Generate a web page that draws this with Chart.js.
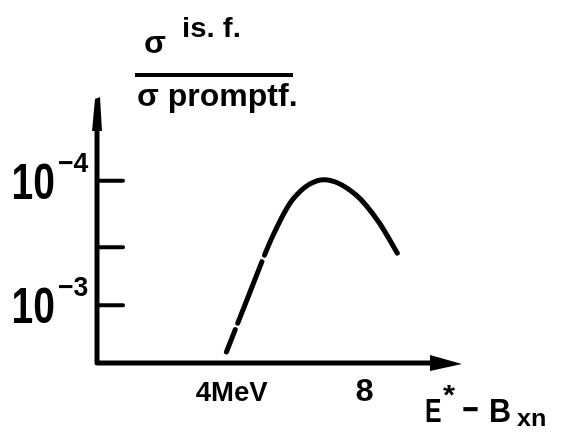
<!DOCTYPE html>
<html>
<head>
<meta charset="utf-8">
<script src="https://cdn.jsdelivr.net/npm/chart.js@4"></script>
<style>
  html, body { margin: 0; padding: 0; background: #fff; }
  canvas { display: block; }
</style>
</head>
<body>
<canvas id="isomerChart" width="583" height="432"></canvas>
<script>
// excitation energy above neutron binding (MeV) and ratio on the log grid
var energy = [3.9, 4.6, 5.3, 5.9, 6.85, 7.8, 8.5, 9.05];
var ratio  = [0.19, 1.21, 2.2, 2.83, 3.17, 2.91, 2.43, 1.90];

var yTicks = [1, 2, 3.15];
var yTickBase = ["10", "", "10"];
var yTickExp  = ["\u22123", "", "\u22124"];

var xTicks = [4, 8];
var xTickLabels = ["4MeV", "8"];

var INK = "#000";
var FONT = "'Liberation Sans', Arial, sans-serif";
var NARROW = "'Liberation Sans Narrow', 'Liberation Sans', sans-serif";

// text squeezed horizontally like the hand lettering
function squeezed(ctx, txt, x, y, font, sx, align) {
  ctx.save();
  ctx.font = font;
  ctx.textAlign = align || "left";
  ctx.textBaseline = "alphabetic";
  ctx.translate(x, y);
  ctx.scale(sx, 1);
  ctx.fillText(txt, 0, 0);
  ctx.restore();
}

var sketchAxes = {
  id: "sketchAxes",
  afterDraw: function(chart) {
    var ctx = chart.ctx,
        xs = chart.scales.x,
        ys = chart.scales.y,
        x0 = xs.left,
        y0 = ys.bottom;

    ctx.save();
    ctx.fillStyle = INK;
    ctx.strokeStyle = INK;
    ctx.lineCap = "round";
    ctx.lineJoin = "round";
    ctx.lineWidth = 5;

    // axes
    ctx.beginPath();
    ctx.moveTo(x0, ys.top + 30);
    ctx.lineTo(x0, y0);
    ctx.lineTo(xs.right - 28, y0);
    ctx.stroke();

    // arrow heads
    ctx.beginPath();
    ctx.moveTo(x0 - 5, ys.top + 34);
    ctx.lineTo(x0 + 5, ys.top + 34);
    ctx.lineTo(x0 + 3, ys.top);
    ctx.lineTo(x0 - 2, ys.top + 2);
    ctx.closePath();
    ctx.fill();

    ctx.beginPath();
    ctx.moveTo(xs.right - 32, y0 - 8);
    ctx.lineTo(xs.right, y0 + 1);
    ctx.lineTo(xs.right - 32, y0 + 8);
    ctx.closePath();
    ctx.fill();

    // y ticks, pointing into the plot
    ctx.lineWidth = 4;
    yTicks.forEach(function(v, i) {
      var py = ys.getPixelForValue(v);
      ctx.beginPath();
      ctx.moveTo(x0, py);
      ctx.lineTo(x0 + 26, py);
      ctx.stroke();
      if (yTickBase[i]) {
        squeezed(ctx, yTickBase[i], 55, py + 18, "bold 50px " + NARROW, 0.78, "right");
        squeezed(ctx, yTickExp[i], 58, py - 9, "bold 28px " + NARROW, 0.95, "left");
      }
    });

    // x tick labels
    xTicks.forEach(function(v, i) {
      var px = xs.getPixelForValue(v);
      var size = xTickLabels[i].length > 1 ? 27 : 32;
      squeezed(ctx, xTickLabels[i], px + 2, y0 + 38, "bold " + size + "px " + FONT, 1.02, "center");
    });

    // x axis title  E* - B_xn
    squeezed(ctx, "E", 425, 422, "bold 33px " + FONT, 0.75);
    squeezed(ctx, "*", 443, 404, "bold 28px " + FONT, 1.1);
    squeezed(ctx, "\u2212", 462, 422, "bold 38px " + FONT, 0.75);
    squeezed(ctx, "B", 489, 422, "bold 34px " + FONT, 0.9);
    squeezed(ctx, "xn", 517, 426, "bold 24px " + FONT, 1.05);

    // y axis title as a fraction
    squeezed(ctx, "\u03c3", 144, 53, "bold 32px " + FONT, 1);
    squeezed(ctx, "is. f.", 182, 37, "bold 28px " + FONT, 1.05);
    ctx.fillRect(135, 73, 158, 4);
    squeezed(ctx, "\u03c3 promptf.", 137, 106, "bold 32px " + FONT, 1.0);

    ctx.restore();
  }
};

var chart = new Chart(document.getElementById("isomerChart"), {
  type: "line",
  data: {
    datasets: [{
      data: energy.map(function(e, i) { return { x: e, y: ratio[i] }; }),
      borderColor: INK,
      borderWidth: 5,
      borderCapStyle: "round",
      borderJoinStyle: "round",
      borderDash: [24, 7, 66, 7, 5000, 0],
      cubicInterpolationMode: "monotone",
      pointRadius: 0,
      fill: false
    }]
  },
  options: {
    responsive: false,
    animation: false,
    layout: { padding: { left: 97, top: 97, right: 121, bottom: 69 } },
    scales: {
      x: { type: "linear", min: 0, max: 11, display: false },
      y: { type: "linear", min: 0, max: 4.6, display: false }
    },
    plugins: {
      legend: { display: false },
      tooltip: { enabled: false }
    }
  },
  plugins: [sketchAxes]
});
</script>
</body>
</html>
